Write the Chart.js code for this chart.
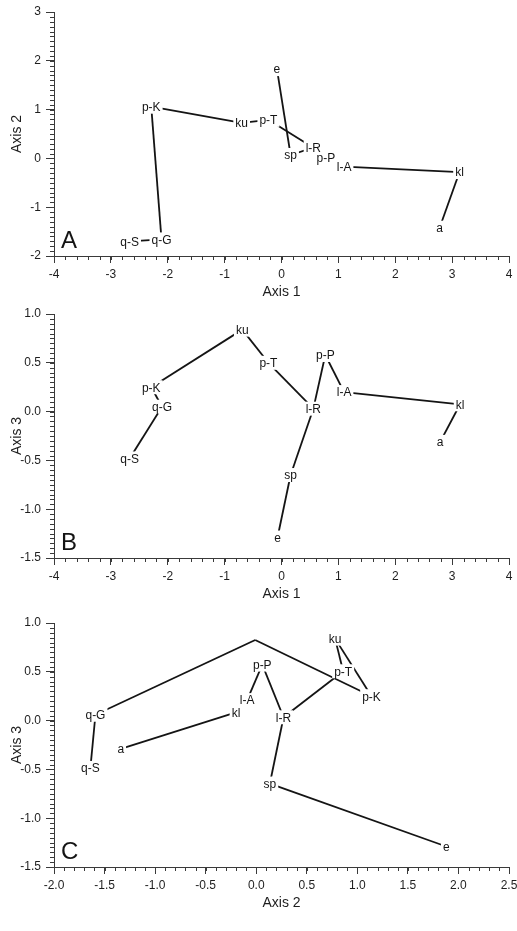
<!DOCTYPE html>
<html>
<head>
<meta charset="utf-8">
<script src="https://cdn.jsdelivr.net/npm/chart.js@4/dist/chart.umd.min.js"></script>
<style>
  html, body { margin: 0; padding: 0; background: #fff; }
  .panel { position: absolute; left: 0; width: 517px; height: 305px; }
</style>
</head>
<body>
<div class="panel" style="top:0px"><canvas id="chartA"></canvas></div>
<div class="panel" style="top:302px"><canvas id="chartB"></canvas></div>
<div class="panel" style="top:611px"><canvas id="chartC"></canvas></div>
<script>
// site labels (the last entry in C is an unlabelled bend point)
const names = ['e', 'p-K', 'ku', 'p-T', 'sp', 'l-R', 'p-P', 'l-A', 'kl', 'a', 'q-G', 'q-S'];
const namesC = names.concat(['']);

// panel A: axis 1 vs axis 2
const axis1A = [-0.08, -2.29, -0.70, -0.23, 0.16, 0.56, 0.78, 1.10, 3.13, 2.78, -2.11, -2.67];
const axis2A = [1.83, 1.06, 0.73, 0.79, 0.07, 0.22, 0.01, -0.17, -0.28, -1.42, -1.66, -1.70];
// panel B: axis 1 vs axis 3
const axis1B = [-0.07, -2.29, -0.69, -0.23, 0.16, 0.56, 0.77, 1.10, 3.14, 2.79, -2.10, -2.67];
const axis3B = [-1.29, 0.25, 0.84, 0.50, -0.65, 0.03, 0.58, 0.20, 0.075, -0.31, 0.05, -0.48];
// panel C: axis 2 vs axis 3
const axis2C = [1.88, 1.14, 0.78, 0.86, 0.135, 0.27, 0.06, -0.09, -0.20, -1.34, -1.59, -1.64, -0.01];
const axis3C = [-1.29, 0.25, 0.84, 0.505, -0.645, 0.034, 0.574, 0.21, 0.085, -0.29, 0.06, -0.485, 0.826];

// connecting lines, as index pairs into the arrays above
const edgesAB = [[1, 2], [2, 3], [3, 5], [0, 4], [4, 5], [5, 6], [6, 7], [7, 8], [8, 9], [1, 10], [10, 11]];
const edgesC = [[10, 12], [12, 1], [2, 3], [2, 1], [3, 5], [6, 7], [6, 5], [8, 7], [8, 9], [10, 11], [5, 4], [4, 0]];

const FONT = '"Liberation Sans", Arial, Helvetica, sans-serif';
const INK = '#141414';
const AXIS = '#3a3a3a';

const minorTicks = {
    id: 'minorTicks',
    afterDraw(chart, args, opts) {
        const ctx = chart.ctx;
        const { x, y } = chart.scales;
        ctx.save();
        ctx.strokeStyle = AXIS;
        ctx.lineWidth = 1;
        ctx.beginPath();
        const nx = Math.round((x.max - x.min) / opts.x);
        for (let i = 1; i < nx; i++) {
            const px = Math.round(x.getPixelForValue(x.min + i * opts.x)) + 0.5;
            ctx.moveTo(px, x.top);
            ctx.lineTo(px, x.top + 4);
        }
        const ny = Math.round((y.max - y.min) / opts.y);
        for (let i = 1; i < ny; i++) {
            const py = Math.round(y.getPixelForValue(y.min + i * opts.y)) + 0.5;
            ctx.moveTo(y.right, py);
            ctx.lineTo(y.right - 4, py);
        }
        ctx.stroke();
        ctx.restore();
    }
};

const siteLabels = {
    id: 'siteLabels',
    afterDatasetsDraw(chart, args, opts) {
        const ctx = chart.ctx;
        const meta = chart.getDatasetMeta(chart.data.datasets.length - 1);
        ctx.save();
        ctx.font = '12px ' + FONT;
        ctx.textAlign = 'center';
        ctx.textBaseline = 'middle';
        // white boxes first so lines stop short of the text
        meta.data.forEach((pt, i) => {
            const t = opts.names[i];
            if (!t) return;
            const w = ctx.measureText(t).width;
            ctx.fillStyle = '#fff';
            ctx.fillRect(pt.x - w / 2 - 2, pt.y - 7, w + 4, 14);
        });
        ctx.fillStyle = INK;
        meta.data.forEach((pt, i) => {
            const t = opts.names[i];
            if (t) ctx.fillText(t, pt.x, pt.y + 1);
        });
        ctx.font = '24px ' + FONT;
        ctx.textAlign = 'left';
        ctx.textBaseline = 'alphabetic';
        ctx.fillText(opts.letter, chart.chartArea.left + 7, chart.chartArea.bottom - 8);
        ctx.restore();
    }
};

function buildDatasets(xs, ys, edges) {
    const sets = edges.map(([i, j]) => ({
        data: [{ x: xs[i], y: ys[i] }, { x: xs[j], y: ys[j] }],
        showLine: true,
        borderColor: INK,
        borderWidth: 1.8,
        pointRadius: 0,
        pointHoverRadius: 0
    }));
    sets.push({
        data: xs.map((v, i) => ({ x: v, y: ys[i] })),
        showLine: false,
        pointRadius: 0,
        pointHoverRadius: 0
    });
    return sets;
}

function scaleOpts(min, max, step, digits, title, isX) {
    return {
        type: 'linear',
        position: isX ? 'bottom' : 'left',
        min: min,
        max: max,
        grid: { drawOnChartArea: false, drawTicks: true, tickLength: isX ? 7 : 8, color: AXIS },
        border: { display: true, color: AXIS, width: 1 },
        ticks: {
            stepSize: step,
            autoSkip: false,
            maxRotation: 0,
            padding: isX ? 4 : 5,
            color: '#1e1e1e',
            font: { family: FONT, size: 12 },
            callback: v => Number(v).toFixed(digits)
        },
        title: {
            display: true,
            text: title,
            color: '#1e1e1e',
            font: { family: FONT, size: 14 },
            padding: isX ? { top: 0, bottom: 4 } : { top: 9, bottom: 0 }
        },
        afterFit(s) {
            if (isX) { s.height = 49; s.paddingLeft = 0; s.paddingRight = 0; }
            else { s.width = 54; s.paddingTop = 0; s.paddingBottom = 0; }
        }
    };
}

function makeChart(id, xs, ys, edges, labels, letter, xAxis, yAxis, minor) {
    const ctx = document.getElementById(id).getContext('2d');
    return new Chart(ctx, {
        type: 'scatter',
        data: { datasets: buildDatasets(xs, ys, edges) },
        options: {
            responsive: true,
            maintainAspectRatio: false,
            animation: false,
            devicePixelRatio: 1,
            layout: { padding: { left: 0, right: 8, top: 12, bottom: 0 } },
            plugins: {
                legend: { display: false },
                tooltip: { enabled: false },
                siteLabels: { names: labels, letter: letter },
                minorTicks: minor
            },
            scales: {
                x: scaleOpts(xAxis[0], xAxis[1], xAxis[2], xAxis[3], xAxis[4], true),
                y: scaleOpts(yAxis[0], yAxis[1], yAxis[2], yAxis[3], yAxis[4], false)
            }
        },
        plugins: [minorTicks, siteLabels]
    });
}

makeChart('chartA', axis1A, axis2A, edgesAB, names, 'A',
    [-4, 4, 1, 0, 'Axis 1'], [-2, 3, 1, 0, 'Axis 2'], { x: 0.2, y: 0.1 });
makeChart('chartB', axis1B, axis3B, edgesAB, names, 'B',
    [-4, 4, 1, 0, 'Axis 1'], [-1.5, 1.0, 0.5, 1, 'Axis 3'], { x: 0.2, y: 0.05 });
makeChart('chartC', axis2C, axis3C, edgesC, namesC, 'C',
    [-2, 2.5, 0.5, 1, 'Axis 2'], [-1.5, 1.0, 0.5, 1, 'Axis 3'], { x: 0.1, y: 0.05 });
</script>
</body>
</html>
